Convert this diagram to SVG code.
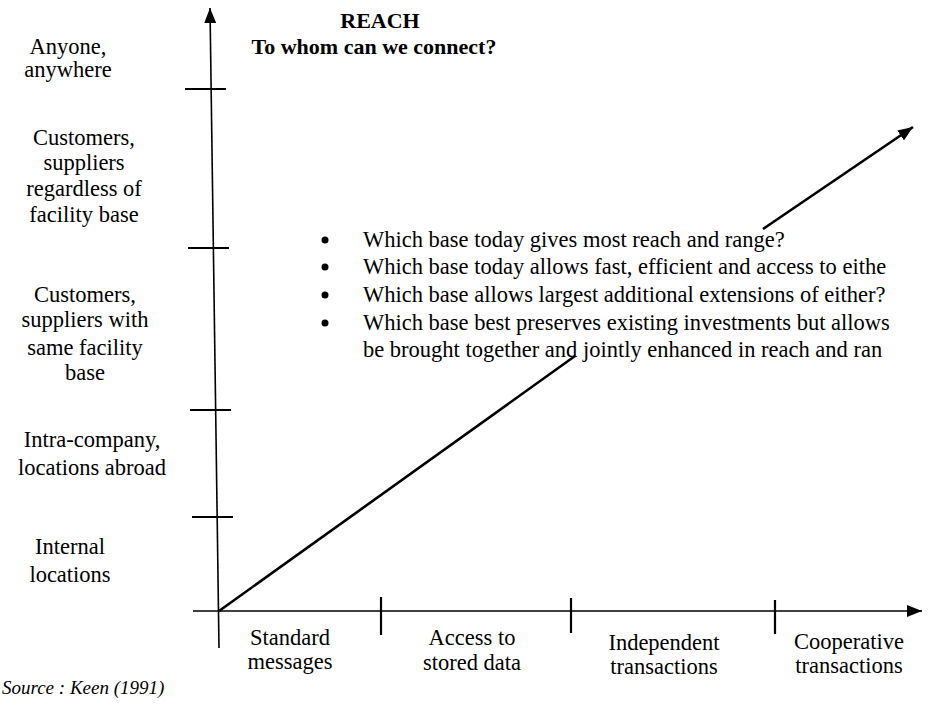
<svg xmlns="http://www.w3.org/2000/svg" width="929" height="707" viewBox="0 0 929 707">
<defs>
<style>
text{font-family:"Liberation Serif","Times New Roman",serif;fill:#000}
.lbl{font-size:22.5px;text-anchor:middle}
.ttl{font-size:22px;font-weight:bold;text-anchor:middle}
.bul{font-size:22.5px}
.src{font-size:19px;font-style:italic}
.ax{stroke:#000;stroke-width:1.6;fill:none}
.tk{stroke:#000;stroke-width:2.2;fill:none}
.dg{stroke:#000;stroke-width:2.6;fill:none}
</style>
<marker id="ah" markerUnits="userSpaceOnUse" markerWidth="16" markerHeight="12" refX="15" refY="6" orient="auto">
<path d="M0,0 L15,6 L0,12 z" fill="#000"/>
</marker>
</defs>
<rect width="929" height="707" fill="#fff"/>
<g id="connectors">
<line class="ax" x1="219" y1="648" x2="210" y2="8" marker-end="url(#ah)"/>
<line class="ax" x1="193" y1="611" x2="922" y2="611" marker-end="url(#ah)"/>
<line class="tk" x1="185" y1="89" x2="226" y2="89"/>
<line class="tk" x1="188" y1="248" x2="229" y2="248"/>
<line class="tk" x1="190" y1="410" x2="231" y2="410"/>
<line class="tk" x1="192" y1="517" x2="233" y2="517"/>
<line class="tk" x1="381" y1="597" x2="381" y2="635"/>
<line class="tk" x1="571" y1="598" x2="571" y2="633"/>
<line class="tk" x1="775" y1="600" x2="775" y2="634"/>
<path class="dg" d="M219,611 L575,356"/>
<path class="dg" d="M763,229 L913,127" marker-end="url(#ah)"/>
</g>
<g id="title">
<text class="ttl" x="380" y="28">REACH</text>
<text class="ttl" x="374" y="54">To whom can we connect?</text>
</g>
<g id="y-labels">
<g id="y1"><text class="lbl" x="68" y="54">Anyone,</text><text class="lbl" x="68" y="77">anywhere</text></g>
<g id="y2"><text class="lbl" x="84" y="145">Customers,</text><text class="lbl" x="84" y="170">suppliers</text><text class="lbl" x="84" y="196">regardless of</text><text class="lbl" x="84" y="222">facility base</text></g>
<g id="y3"><text class="lbl" x="85" y="302">Customers,</text><text class="lbl" x="85" y="327">suppliers with</text><text class="lbl" x="85" y="355">same facility</text><text class="lbl" x="85" y="380">base</text></g>
<g id="y4"><text class="lbl" x="92" y="447">Intra-company,</text><text class="lbl" x="92" y="475">locations abroad</text></g>
<g id="y5"><text class="lbl" x="70" y="554">Internal</text><text class="lbl" x="70" y="582">locations</text></g>
</g>
<g id="x-labels">
<g id="x1"><text class="lbl" x="290" y="645">Standard</text><text class="lbl" x="290" y="669">messages</text></g>
<g id="x2"><text class="lbl" x="472" y="645">Access to</text><text class="lbl" x="472" y="670">stored data</text></g>
<g id="x3"><text class="lbl" x="664" y="650">Independent</text><text class="lbl" x="664" y="674">transactions</text></g>
<g id="x4"><text class="lbl" x="849" y="649">Cooperative</text><text class="lbl" x="849" y="673">transactions</text></g>
</g>
<g id="questions">
<circle cx="325" cy="240" r="3.5"/>
<circle cx="325" cy="267" r="3.5"/>
<circle cx="325" cy="295" r="3.5"/>
<circle cx="325" cy="323" r="3.5"/>
<text class="bul" x="363" y="247">Which base today gives most reach and range?</text>
<text class="bul" x="363" y="274">Which base today allows fast, efficient and access to eithe</text>
<text class="bul" x="363" y="302">Which base allows largest additional extensions of either?</text>
<text class="bul" x="363" y="330">Which base best preserves existing investments but allows</text>
<text class="bul" x="363" y="357">be brought together and jointly enhanced in reach and ran</text>
</g>
<text id="source" class="src" x="2" y="694">Source : Keen (1991)</text>
</svg>
